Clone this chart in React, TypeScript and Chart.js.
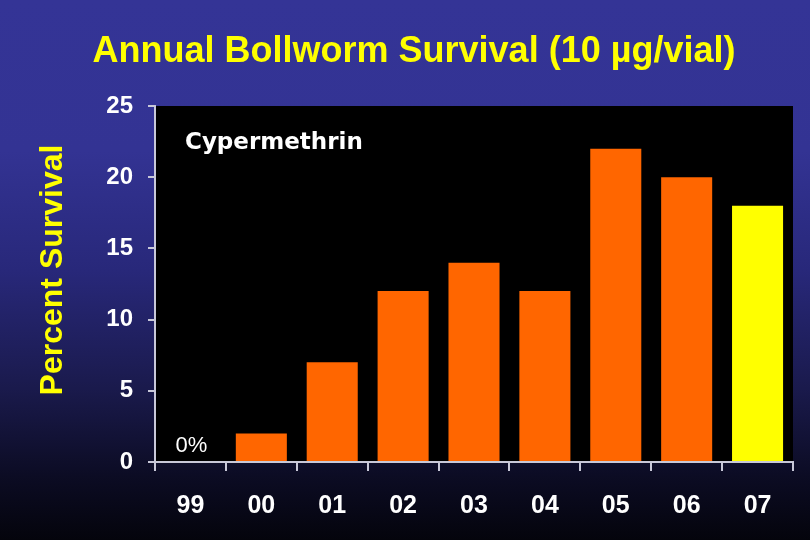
import React, { useEffect, useRef } from "react";
import { Chart, registerables } from "chart.js";

Chart.register(...registerables);

const titleText = "Annual Bollworm Survival (10 µg/vial)";
const yAxisTitle = "Percent Survival";
const insecticide = "Cypermethrin";
const zeroNote = "0%";
const years = ["99", "00", "01", "02", "03", "04", "05", "06", "07"];
const survival = [0, 2, 7, 12, 14, 12, 22, 20, 18];
const highlightYear = "07";
const yTicks = [0, 5, 10, 15, 20, 25];

const ORANGE = "#ff6600";
const YELLOW = "#ffff00";
const AXIS = "#c8c8d8";
const ARIAL = "'Liberation Sans', Arial, sans-serif";

const decorPlugin = {
  id: "decor",
  beforeDraw(chart: any) {
    const { ctx, chartArea } = chart;
    ctx.save();
    ctx.fillStyle = "#000000";
    ctx.fillRect(chartArea.left, chartArea.top, chartArea.right - chartArea.left, chartArea.bottom - chartArea.top);
    ctx.restore();
  },
  afterDraw(chart: any) {
    const { ctx, chartArea, scales } = chart;
    const xs = scales.x;
    const ys = scales.y;
    ctx.save();
    // main title
    ctx.fillStyle = YELLOW;
    ctx.font = `bold 36px ${ARIAL}`;
    ctx.textAlign = "center";
    ctx.textBaseline = "alphabetic";
    ctx.fillText(titleText, 414, 62);
    // y axis title
    ctx.save();
    ctx.translate(53, 270);
    ctx.rotate(-Math.PI / 2);
    ctx.textBaseline = "middle";
    ctx.font = `bold 32px ${ARIAL}`;
    ctx.fillText(yAxisTitle, 0, 0);
    ctx.restore();
    // insecticide label
    ctx.fillStyle = "#ffffff";
    ctx.textBaseline = "middle";
    ctx.font = `bold 23px 'DejaVu Sans', Verdana, sans-serif`;
    ctx.textAlign = "left";
    ctx.fillText(insecticide, chartArea.left + 30, ys.getPixelForValue(22.4));
    // 0% note
    ctx.font = `22px ${ARIAL}`;
    ctx.textAlign = "center";
    ctx.fillText(zeroNote, xs.getPixelForValue(0) + 1, ys.getPixelForValue(1.15));
    ctx.restore();
  },
};

export default function App() {
  const ref = useRef<HTMLCanvasElement | null>(null);

  useEffect(() => {
    if (!ref.current) return;
    const chart = new Chart(ref.current, {
      type: "bar",
      data: {
        labels: years,
        datasets: [
          {
            data: survival,
            backgroundColor: years.map((y) => (y === highlightYear ? YELLOW : ORANGE)),
            borderWidth: 0,
            barPercentage: 0.72,
            categoryPercentage: 1,
          },
        ],
      },
      options: {
        animation: false,
        responsive: false,
        maintainAspectRatio: false,
        layout: { padding: { top: 106, right: 17, left: 0, bottom: 0 } },
        plugins: { legend: { display: false }, tooltip: { enabled: false }, title: { display: false } },
        scales: {
          x: {
            afterFit: (s: any) => {
              s.height = 78;
            },
            grid: {
              offset: true,
              drawOnChartArea: false,
              drawTicks: true,
              tickLength: 9,
              color: AXIS,
              lineWidth: 2,
            },
            border: { display: true, color: AXIS, width: 2 },
            ticks: {
              color: "#ffffff",
              font: { family: ARIAL, size: 25, weight: "bold" },
              padding: 20,
              maxRotation: 0,
            },
          },
          y: {
            min: 0,
            max: 25,
            afterFit: (s: any) => {
              s.width = 155;
            },
            afterBuildTicks: (s: any) => {
              s.ticks = yTicks.map((v) => ({ value: v }));
            },
            grid: {
              drawOnChartArea: false,
              drawTicks: true,
              tickLength: 7,
              color: AXIS,
              lineWidth: 2,
            },
            border: { display: true, color: AXIS, width: 2 },
            ticks: {
              color: "#ffffff",
              font: { family: ARIAL, size: 24, weight: "bold" },
              padding: 15,
            },
          },
        },
      },
      plugins: [decorPlugin],
    });
    return () => chart.destroy();
  }, []);

  return (
    <div
      style={{
        position: "absolute",
        left: 0,
        top: 0,
        width: 810,
        height: 540,
        background:
          "linear-gradient(to bottom, #343496 0%, #333393 28%, #28287a 50%, #1a1a4c 72%, #0c0c24 88%, #04040c 100%)",
      }}
    >
      <canvas ref={ref} width={810} height={540} style={{ display: "block" }} />
    </div>
  );
}
